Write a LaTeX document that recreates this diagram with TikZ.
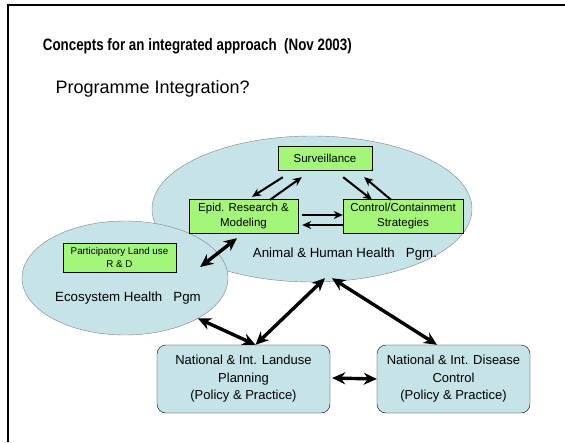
\documentclass[tikz,border=0pt]{standalone}
\usepackage{fontspec}
\setmainfont{Liberation Sans}
\usetikzlibrary{arrows.meta, shapes.geometric, positioning}

\definecolor{pgmblue}{RGB}{198,228,232}
\definecolor{taskgreen}{RGB}{164,246,122}

\begin{document}
\begin{tikzpicture}[x=1pt, y=-1pt, >={Stealth[length=9pt, width=8pt]}]
 \tikzstyle{pgm} = [ellipse, draw=gray, fill=pgmblue, inner sep=0pt]
 \tikzstyle{task} = [rectangle, draw, fill=taskgreen, align=center, inner sep=0pt, font=\fontsize{11.5}{15.5}\selectfont]
 \tikzstyle{policy} = [rectangle, draw, rounded corners=9pt, fill=pgmblue, align=center, inner sep=0pt, minimum height=68pt, font=\fontsize{13}{17.5}\selectfont]
 \tikzstyle{flow} = [->, line width=2pt]
 \tikzstyle{link} = [{Stealth[length=13pt, width=12pt]}-{Stealth[length=13pt, width=12pt]}, line width=3.4pt]
 \tikzstyle{label} = [font=\fontsize{13.3}{16}\selectfont]

 \useasboundingbox (0,0) rectangle (565,442);
 \draw[line width=2pt] (8,442) -- (8,5) -- (565,5);

 % headings
 \node[anchor=base west, xscale=0.81, transform shape, font=\bfseries\fontsize{16.5}{20}\selectfont] (title) at (40,50) {Concepts for an integrated approach\ \ (Nov 2003)};
 \node[anchor=base west, font=\fontsize{18}{21}\selectfont] (question) at (52,93) {Programme Integration?};

 % programmes
 \node[pgm, minimum width=320pt, minimum height=146pt] (ahh) at (312,209) {};
 \node[pgm, minimum width=206pt, minimum height=114pt] (eco) at (125,278) {};
 \node[label, anchor=base] (ahhtext) at (345,257) {Animal \& Human Health\ \ \ Pgm.};
 \node[label, anchor=base] (ecotext) at (128,301) {Ecosystem Health\ \ \ Pgm};

 \node[task, minimum width=94pt, minimum height=24pt] (surv) at (325,158) {Surveillance};
 \node[task, minimum width=109pt, minimum height=34pt] (epid) at (243.5,216) {Epid. Research \&\\Modeling};
 \node[task, minimum width=120pt, minimum height=34pt] (ctrl) at (403,216) {Control/Containment\\Strategies};
 \node[task, minimum width=113pt, minimum height=29pt, font=\fontsize{9.8}{13.5}\selectfont] (part) at (119.5,257.5) {Participatory Land use\\R \& D};

 \node[policy, minimum width=173pt] (land) at (243.5,379) {National \& Int. Landuse\\Planning\\(Policy \& Practice)};
 \node[policy, minimum width=153pt] (dis) at (453.5,379) {National \& Int. Disease\\Control\\(Policy \& Practice)};

 \coordinate (meet) at ([shift={(12,0)}]land.north);

 % within the health programme
 \draw[flow] ([shift={(5,7)}]surv.south west) -- ([shift={(8.5,-2)}]epid.north);
 \draw[flow] ([shift={(26.5,1)}]epid.north) -- ([shift={(24,7)}]surv.south west);
 \draw[flow] ([shift={(-29,7)}]surv.south east) -- ([shift={(-31,1)}]ctrl.north);
 \draw[flow] ([shift={(-12,1)}]ctrl.north) -- ([shift={(-8,7)}]surv.south east);
 \draw[flow] ([shift={(4,-1)}]epid.east) -- ([shift={(0,-1)}]ctrl.west);
 \draw[flow] ([shift={(0,9)}]ctrl.west) -- ([shift={(4,9)}]epid.east);

 % between programmes and policy
 \draw[link] ([shift={(24,9.5)}]part.east) -- ([shift={(-6.5,5)}]epid.south);
 \draw[link] (eco.-29) -- (meet);
 \draw[link] (meet) -- ([shift={(13,-4)}]ahh.south);
 \draw[link] ([shift={(20,-4)}]ahh.south) -- ([shift={(-16.5,0)}]dis.north);
 \draw[link] ([shift={(2,-1)}]land.east) -- (dis.west);
\end{tikzpicture}
\end{document}
